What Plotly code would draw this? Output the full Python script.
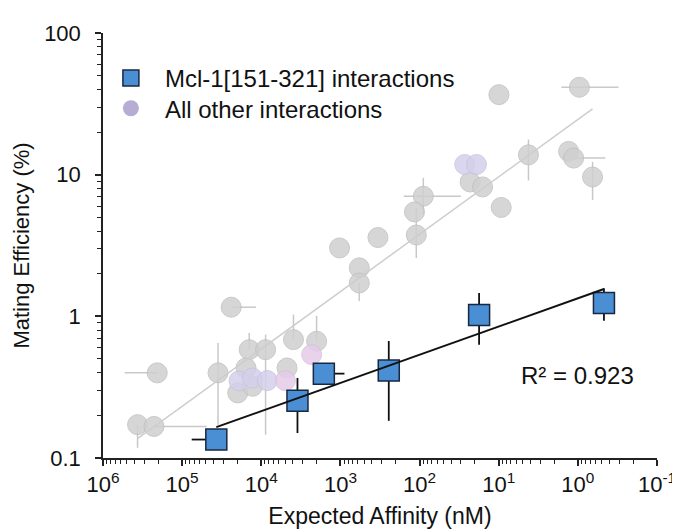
import numpy as np
import plotly.graph_objects as go

# ---------------- data ----------------
# Mcl-1[151-321] interactions
mcl_affinity = [37000, 3490, 1620, 245, 17.7, 0.468]
mcl_efficiency = [0.135, 0.254, 0.394, 0.414, 1.02, 1.24]
mcl_aff_err_plus = [38700, 0, 0, 0, 0, 0]
mcl_aff_err_minus = [0, 0, 730, 0, 0, 0]
mcl_eff_err_plus = [0, 0.113, 0, 0.256, 0.44, 0.34]
mcl_eff_err_minus = [0, 0.104, 0, 0.231, 0.39, 0.31]

# All other interactions (grey)
grey_affinity = [9.95, 0.957, 4.21, 1.31, 1.13, 0.652, 23.0, 16.0, 9.3, 89.7,
                 116, 110, 336, 1026, 578, 578, 24000, 206500, 366000, 227000,
                 35200, 14200, 8820, 3920, 2000, 19850, 12900, 4730, 15600]
grey_efficiency = [36.7, 41.4, 13.8, 14.6, 13.1, 9.63, 8.88, 8.19, 5.87, 7.04,
                   5.46, 3.75, 3.6, 3.04, 2.2, 1.72, 1.16, 0.399, 0.172, 0.167,
                   0.399, 0.582, 0.582, 0.685, 0.667, 0.288, 0.321, 0.432, 0.432]
grey_aff_err_plus = [0, 0.66, 0, 0, 0, 0, 0, 0, 0, 69,
                     0, 0, 0, 0, 0, 0, 0, 325000, 0, 0,
                     0, 0, 0, 0, 0, 0, 0, 0, 0]
grey_aff_err_minus = [0, 0.65, 0, 0, 0.68, 0, 0, 0, 0, 59.6,
                      0, 0, 0, 0, 0, 0, 12300, 0, 0, 178000,
                      0, 0, 0, 0, 0, 0, 0, 0, 0]
grey_eff_err_plus = [0, 0, 3.9, 0, 0, 2.7, 0, 0, 0, 2.46,
                     0, 2.07, 0, 0, 0, 0, 0, 0, 0, 0,
                     0.25, 0.182, 0.161, 0.345, 0.343, 0, 0, 0, 0]
grey_eff_err_minus = [0, 0, 4.7, 0, 0, 3.0, 0, 0, 0, 1.84,
                      0, 1.17, 0, 0, 0, 0.44, 0, 0, 0.054, 0,
                      0.227, 0, 0.436, 0, 0, 0, 0, 0, 0]

# All other interactions (lavender / pink tinted)
lav_affinity = [26.9, 19.1, 19100, 12900, 8400]
lav_efficiency = [11.8, 11.8, 0.35, 0.367, 0.352]
pink_affinity = [2310, 4960]
pink_efficiency = [0.537, 0.352]

r2_label = "R² = 0.923"
x_tick_exponents = [6, 5, 4, 3, 2, 1, 0, -1]
y_tick_values = [0.1, 1, 10, 100]
y_tick_labels = ["0.1", "1", "10", "100"]

# ---------------- fits (log-log regression) ----------------
def loglog_fit(xs, ys):
    lx, ly = np.log10(xs), np.log10(ys)
    b, a = np.polyfit(lx, ly, 1)
    xr = np.array([lx.min(), lx.max()])
    return 10 ** xr, 10 ** (a + b * xr)

other_x = grey_affinity + lav_affinity + pink_affinity
other_y = grey_efficiency + lav_efficiency + pink_efficiency
gfx, gfy = loglog_fit(other_x, other_y)
mfx, mfy = loglog_fit(mcl_affinity, mcl_efficiency)

FONT = "Liberation Sans, Arial, sans-serif"
GREY = "rgb(208,208,208)"
GREY_ERR = "rgb(200,200,200)"

fig = go.Figure()

fig.add_trace(go.Scatter(
    x=grey_affinity, y=grey_efficiency, mode="markers", showlegend=False,
    marker=dict(symbol="circle", size=20, color=GREY, opacity=0.85,
                line=dict(width=1, color="rgb(192,192,192)")),
    error_x=dict(type="data", symmetric=False, array=grey_aff_err_plus,
                 arrayminus=grey_aff_err_minus, color=GREY_ERR, thickness=1.5, width=0),
    error_y=dict(type="data", symmetric=False, array=grey_eff_err_plus,
                 arrayminus=grey_eff_err_minus, color=GREY_ERR, thickness=1.5, width=0),
))
fig.add_trace(go.Scatter(
    x=lav_affinity, y=lav_efficiency, mode="markers", showlegend=False,
    marker=dict(symbol="circle", size=20, color="rgb(212,208,234)", opacity=0.85,
                line=dict(width=1, color="rgb(200,196,225)")),
))
fig.add_trace(go.Scatter(
    x=pink_affinity, y=pink_efficiency, mode="markers", showlegend=False,
    marker=dict(symbol="circle", size=20, color="rgb(228,204,232)", opacity=0.85,
                line=dict(width=1, color="rgb(218,190,225)")),
))
fig.add_trace(go.Scatter(
    x=gfx, y=gfy, mode="lines", showlegend=False,
    line=dict(color="rgb(205,205,205)", width=1.5),
))
fig.add_trace(go.Scatter(
    x=mcl_affinity, y=mcl_efficiency, mode="markers",
    name="Mcl-1[151-321] interactions", legend="legend",
    marker=dict(symbol="square", size=21, color="rgb(74,142,212)",
                line=dict(width=1.5, color="rgb(25,40,65)")),
    error_x=dict(type="data", symmetric=False, array=mcl_aff_err_plus,
                 arrayminus=mcl_aff_err_minus, color="#111", thickness=1.8, width=0),
    error_y=dict(type="data", symmetric=False, array=mcl_eff_err_plus,
                 arrayminus=mcl_eff_err_minus, color="#111", thickness=1.8, width=0),
))
fig.add_trace(go.Scatter(
    x=mfx, y=mfy, mode="lines", showlegend=False,
    line=dict(color="#111", width=2),
))
# legend entry for the other interactions
fig.add_trace(go.Scatter(
    x=[None], y=[None], mode="markers", name="All other interactions",
    legend="legend2",
    marker=dict(symbol="circle", size=20, color="rgb(182,172,212)"),
))

minor_x = [k * 10.0 ** e for e in range(-1, 6) for k in range(2, 10)]
minor_y = [k * 10.0 ** e for e in range(-1, 2) for k in range(2, 10)]

axis_common = dict(
    type="log", showgrid=False, zeroline=False, showline=True,
    linecolor="#222", linewidth=1.5, ticks="outside", ticklen=6, tickwidth=1.5,
    tickcolor="#222", mirror=False,
    tickfont=dict(family=FONT, size=22, color="#111"),
)

legend_common = dict(
    x=-0.011, xanchor="left", yanchor="middle",
    bgcolor="rgba(0,0,0,0)", borderwidth=0,
    font=dict(family=FONT, size=24, color="#111"),
    itemwidth=58,
)

fig.update_layout(
    width=680, height=529,
    margin=dict(l=95, r=23, t=25, b=78),
    paper_bgcolor="white", plot_bgcolor="white",
    font=dict(family=FONT, color="#111"),
    xaxis=dict(
        **axis_common,
        range=[6, -1],
        tickmode="array",
        tickvals=[10.0 ** e for e in x_tick_exponents],
        ticktext=[f"10<sup>{e}</sup>" for e in x_tick_exponents],
        minor=dict(tickmode="array", tickvals=minor_x, ticks="outside",
                   ticklen=4, tickwidth=1, tickcolor="#222"),
        title=dict(text="Expected Affinity (nM)", font=dict(family=FONT, size=23),
                   standoff=12),
    ),
    yaxis=dict(
        **axis_common,
        range=[-1, 2],
        tickmode="array",
        tickvals=y_tick_values,
        ticktext=y_tick_labels,
        ticklabelstandoff=10,
        minor=dict(tickmode="array", tickvals=minor_y, ticks="outside",
                   ticklen=4, tickwidth=1, tickcolor="#222"),
        title=dict(text="Mating Efficiency (%)", font=dict(family=FONT, size=22),
                   standoff=8),
    ),
    legend=dict(**legend_common, y=0.893),
    legend2=dict(**legend_common, y=0.822),
    annotations=[dict(
        text=r2_label, xref="paper", yref="paper", x=0.856, y=0.195,
        xanchor="center", yanchor="middle", showarrow=False,
        font=dict(family=FONT, size=24, color="#111"),
    )],
)

fig.write_html("out.html")
